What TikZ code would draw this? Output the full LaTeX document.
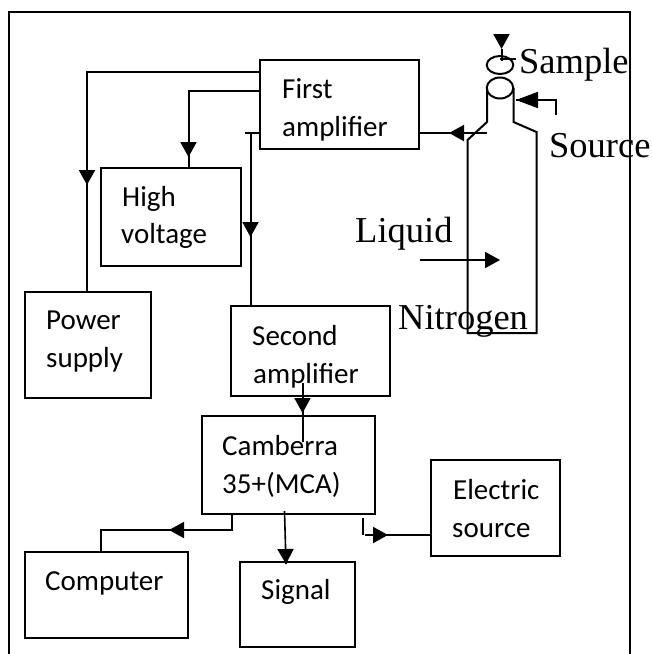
\documentclass[tikz,border=0pt]{standalone}
\usepackage{fontspec}
\setmainfont{Liberation Serif}
\newfontfamily\boxfont{Carlito}
\usetikzlibrary{arrows.meta,shapes.geometric}
\tikzset{
  wire/.style={line width=2pt,black},
  blockbox/.style={draw=black,line width=2pt,anchor=north west,inner sep=0pt,outer sep=0pt},
  head/.style={-{Triangle[length=15pt,width=16pt]},line width=2pt,black,shorten >=0pt},
  boxtext/.style={anchor=base west,inner sep=0pt,font=\boxfont\fontsize{29}{34}\selectfont},
  serif/.style={anchor=base west,inner sep=0pt,font=\fontsize{36.5}{40}\selectfont},
  vessel/.style={draw=black,line width=2pt,ellipse,inner sep=0pt,outer sep=0pt},
}
\begin{document}
\begin{tikzpicture}[x=1pt,y=-1pt]
\useasboundingbox (0,0) rectangle (652,654);
% outer frame (open at the bottom)
\coordinate (fbl) at (8.5,654);
\coordinate (ftl) at (8.5,12);
\coordinate (ftr) at (630,12);
\coordinate (fbr) at (630,654);
\draw[wire] (fbl) -- (ftl) -- (ftr) -- (fbr);
% blocks
\node[blockbox,minimum width=158.5pt,minimum height=89pt] (first) at (260,60) {};
\node[blockbox,minimum width=140.5pt,minimum height=98pt] (hv) at (100.5,168) {};
\node[blockbox,minimum width=126pt,minimum height=106pt] (power) at (25,292) {};
\node[blockbox,minimum width=158.5pt,minimum height=90pt] (second) at (231,306) {};
\node[blockbox,minimum width=173pt,minimum height=98pt] (mca) at (202,416) {};
\node[blockbox,minimum width=129pt,minimum height=96pt] (elec) at (431,460) {};
\node[blockbox,minimum width=163pt,minimum height=86pt] (comp) at (25,552) {};
\node[blockbox,minimum width=115pt,minimum height=85pt] (signal) at (240,562) {};
% block texts
\node[boxtext] (t1) at (282,98) {First};
\node[boxtext] (t2) at (282,136) {amplifier};
\node[boxtext] (t3) at (122,206) {High};
\node[boxtext] (t4) at (121,243) {voltage};
\node[boxtext] (t5) at (46,329) {Power};
\node[boxtext] (t6) at (46,367) {supply};
\node[boxtext] (t7) at (252,345) {Second};
\node[boxtext] (t8) at (253,383) {amplifier};
\node[boxtext] (t9) at (222,455) {Camberra};
\node[boxtext] (t10) at (222,493) {35+(MCA)};
\node[boxtext] (t11) at (453,499) {Electric};
\node[boxtext] (t12) at (452,537) {source};
\node[boxtext] (t13) at (45,590) {Computer};
\node[boxtext] (t14) at (261,599) {Signal};
% dewar
\coordinate (nl) at (487,88);
\coordinate (nr) at (513.5,88);
\coordinate (sl) at (487,122);
\coordinate (sr) at (513.5,122);
\coordinate (wl) at (467.5,140);
\coordinate (wr) at (536.5,132);
\coordinate (bl) at (467.5,333);
\coordinate (br) at (536.5,333);
\draw[wire,line join=miter] (nl) -- (sl) -- (wl) -- (bl) -- (br) -- (wr) -- (sr) -- (nr);
\node[vessel,minimum width=26.5pt,minimum height=21pt] (neck) at (500,88) {};
\node[vessel,minimum width=26.5pt,minimum height=18pt] (samp) at (500,65) {};
% serif labels
\node[serif] (sample) at (519,73) {Sample};
\node[serif] (source) at (549,157) {Source};
\node[serif] (liquid) at (355,242) {Liquid};
\node[serif] (nitrogen) at (398,329) {Nitrogen};
% first amplifier to power supply
\draw[wire] (first.west |- 0,72) -| (power.north -| 87,0);
\draw[head] (87,170) -- (87,185);
% first amplifier to high voltage
\draw[wire] (first.west |- 0,91) -| (hv.north -| 188.5,0);
\draw[head] (188.5,142) -- (188.5,157);
% first amplifier to second amplifier
\draw[wire] (first.west |- 0,133) -- (245,133);
\draw[wire] (250.5,133) -- (second.north -| 250.5,0);
\draw[head] (250.5,222) -- (250.5,237);
% second amplifier to MCA
\draw[wire] (302.5,383) -- (302.5,442);
\draw[head] (302.5,398) -- (302.5,413);
% MCA to computer
\draw[wire] (mca.south -| 232,0) -- (232,530) -| (comp.north -| 101,0);
\draw[head] (184,530) -- (169,530);
% MCA to signal
\draw[wire,line width=1.6pt] (284.5,511) -- (286,564);
\draw[head] (285.6,549) -- (286,564);
% electric source to MCA
\draw[wire] (elec.west |- 0,535) -- (365,535);
\draw[wire,line width=1.5pt] (363,518) -- (363,535);
\draw[head] (373,535) -- (388,535);
% dewar to first amplifier
\draw[wire] (first.east |- 0,133) -- (487,133);
\draw[head] (464,133) -- (449,133);
% sample arrow
\draw[wire] (501.5,49) -- (501.5,61);
\draw[head] (501.5,34) -- (501.5,49);
\draw[wire] (500,59) -- (516,59);
% source arrow
\draw[wire] (556,115) -- (556,100) -- (516,100);
\draw[-{Triangle[length=22pt,width=16pt]},line width=2pt] (538,100) -- (516,100);
% liquid nitrogen arrow
\draw[wire] (420,260) -- (486,260);
\draw[head] (485,260) -- (500,260);
\end{tikzpicture}
\end{document}
